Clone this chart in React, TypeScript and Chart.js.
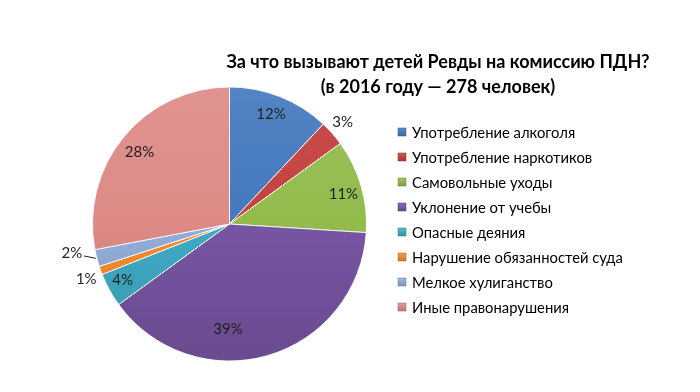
import React, { useEffect, useRef } from "react";
import { Chart, registerables } from "chart.js";

Chart.register(...registerables);

const titleLines = ["За что вызывают детей Ревды на комиссию ПДН?", "(в 2016 году — 278 человек)"];
const categories = [
  "Употребление алкоголя",
  "Употребление наркотиков",
  "Самовольные уходы",
  "Уклонение от учебы",
  "Опасные деяния",
  "Нарушение обязанностей суда",
  "Мелкое хулиганство",
  "Иные правонарушения",
];
const values = [12, 3, 11, 39, 4, 1, 2, 28];
const colors = ["#4479BE", "#C4403D", "#93BB4C", "#7755A3", "#3FAAC6", "#F58C2E", "#91AEDA", "#DD8A86"];
// label placement style: radial factor and angle tweak (degrees)
const labelPlace = [
  { r: 0.86, da: -1, leader: false },
  { r: 1.11, da: -0.5, leader: false },
  { r: 0.86, da: 1.4, leader: false },
  { r: 0.77, da: 17, leader: false },
  { r: 0.88, da: 1.3, leader: false },
  { r: 1.12, da: -1.2, leader: false },
  { r: 1.17, da: 4, leader: true },
  { r: 0.84, da: -1.1, leader: false },
];

const FONT = "Lato, 'Open Sans', sans-serif";

function shade(hex: string, amt: number) {
  const n = parseInt(hex.slice(1), 16);
  let r = (n >> 16) & 255, g = (n >> 8) & 255, b = n & 255;
  const f = (c: number) => Math.round(amt >= 0 ? c + (255 - c) * amt : c * (1 + amt));
  return `rgb(${f(r)},${f(g)},${f(b)})`;
}

const overlayPlugin = {
  id: "overlay",
  afterDatasetsDraw(chart: any) {
    const ctx = chart.ctx as CanvasRenderingContext2D;
    const meta = chart.getDatasetMeta(0);
    const total = values.reduce((a, b) => a + b, 0);
    ctx.save();
    ctx.font = `15px ${FONT}`;
    ctx.fillStyle = "#1f1f1f";
    ctx.textAlign = "center";
    ctx.textBaseline = "middle";
    meta.data.forEach((arc: any, i: number) => {
      const p = arc.getProps(["x", "y", "startAngle", "endAngle", "outerRadius"], true);
      const lp = labelPlace[i];
      const mid = (p.startAngle + p.endAngle) / 2 + (lp.da * Math.PI) / 180;
      const rr = p.outerRadius * lp.r;
      const x = p.x + Math.cos(mid) * rr;
      const y = p.y + Math.sin(mid) * rr;
      const txt = Math.round((values[i] / total) * 100) + "%";
      ctx.fillText(txt, x, y);
      if (lp.leader) {
        const am = (p.startAngle + p.endAngle) / 2;
        ctx.beginPath();
        ctx.strokeStyle = "#222";
        ctx.lineWidth = 1;
        ctx.moveTo(x + 12, y + 3);
        ctx.lineTo(p.x + Math.cos(am) * (p.outerRadius + 1), p.y + Math.sin(am) * (p.outerRadius + 1));
        ctx.stroke();
      }
    });
    // title
    ctx.font = `bold 18px ${FONT}`;
    ctx.fillStyle = "#000";
    ctx.fillText(titleLines[0], 438, 62);
    ctx.fillText(titleLines[1], 438, 87);
    // legend
    ctx.font = `14.8px ${FONT}`;
    ctx.textAlign = "left";
    categories.forEach((c, i) => {
      const y = 132 + i * 25;
      const g = ctx.createLinearGradient(0, y - 4, 0, y + 4);
      g.addColorStop(0, shade(colors[i], 0.15));
      g.addColorStop(1, shade(colors[i], -0.15));
      ctx.fillStyle = g;
      ctx.fillRect(398, y - 4, 8, 8);
      ctx.strokeStyle = shade(colors[i], -0.3);
      ctx.lineWidth = 0.5;
      ctx.strokeRect(398, y - 4, 8, 8);
      ctx.fillStyle = "#000";
      ctx.fillText(c, 412, y + 1);
    });
    ctx.restore();
  },
};

export default function App() {
  const ref = useRef<HTMLCanvasElement | null>(null);
  useEffect(() => {
    document.body.style.margin = "0";
    const canvas = ref.current!;
    const chart = new Chart(canvas, {
      type: "pie",
      data: {
        labels: categories,
        datasets: [
          {
            data: values,
            backgroundColor: (context: any) => {
              const ch = context.chart;
              const area = ch.chartArea;
              const col = colors[context.dataIndex];
              if (!area) return col;
              const g = ch.ctx.createLinearGradient(0, area.top, 0, area.bottom);
              g.addColorStop(0, shade(col, 0.08));
              g.addColorStop(0.5, col);
              g.addColorStop(1, shade(col, -0.12));
              return g;
            },
            borderColor: "rgba(255,255,255,0.85)",
            borderWidth: 1,
          },
        ],
      },
      options: {
        responsive: false,
        animation: false,
        layout: { padding: { left: 92, right: 333, top: 86, bottom: 30 } },
        plugins: {
          legend: { display: false },
          tooltip: { enabled: false },
          title: { display: false },
        },
      },
      plugins: [overlayPlugin],
    });
    return () => chart.destroy();
  }, []);
  return (
    <div style={{ width: 700, height: 392, background: "#fff" }}>
      <canvas ref={ref} width={700} height={392} style={{ display: "block" }} />
    </div>
  );
}
